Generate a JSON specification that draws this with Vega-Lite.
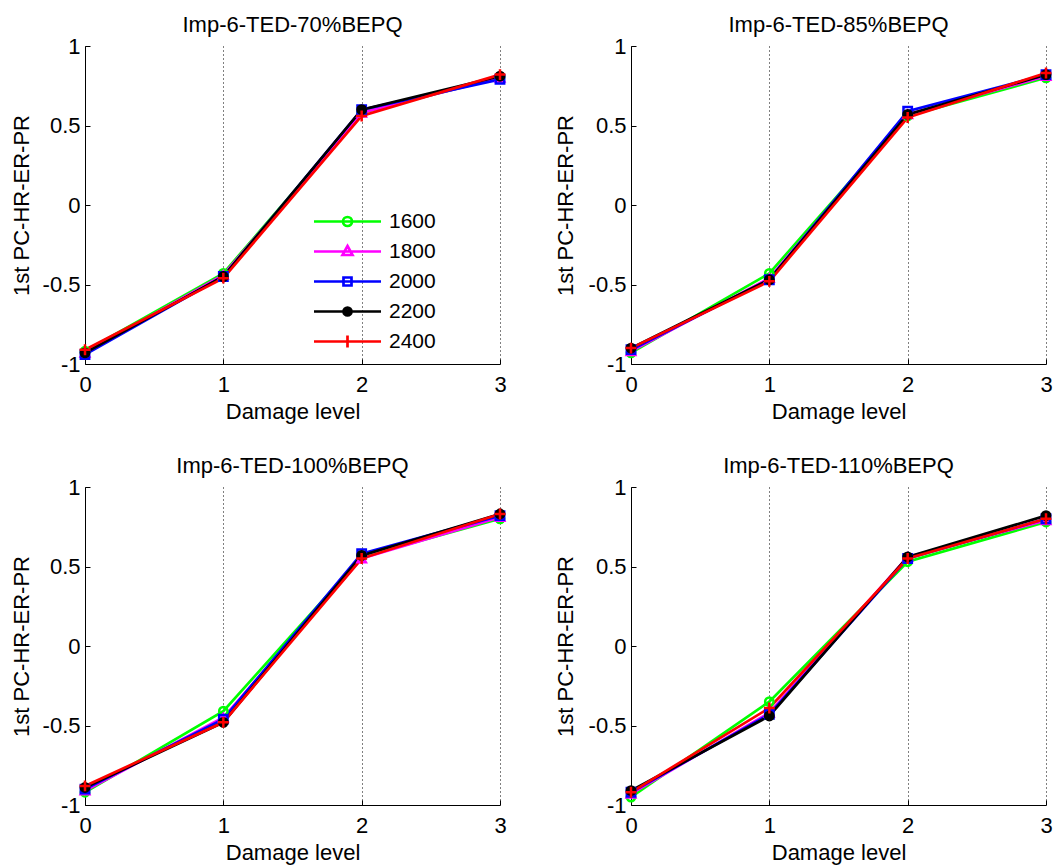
{
  "$schema": "https://vega.github.io/schema/vega-lite/v6.json",
  "padding": {"left": 10, "top": 14, "right": 5, "bottom": 5},
  "background": "white",
  "columns": 2,
  "bounds": "flush",
  "spacing": {"column": 131, "row": 123},
  "config": {
    "font": "Liberation Sans",
    "view": {"stroke": null},
    "title": {"fontSize": 22, "fontWeight": "normal", "color": "#000", "font": "Liberation Sans", "baseline": "alphabetic", "offset": -2},
    "axis": {
      "labelFont": "Liberation Sans", "titleFont": "Liberation Sans",
      "labelFontSize": 22, "titleFontSize": 22, "titleFontWeight": "normal",
      "labelColor": "#000", "titleColor": "#000",
      "domainColor": "#000", "domainWidth": 1, "tickColor": "#000", "tickWidth": 1,
      "tickSize": -5, "labelFlush": false, "labelOverlap": false
    },
    "axisX": {"grid": true, "gridColor": "#000", "gridDash": [1, 3], "gridWidth": 1, "labelPadding": 15, "titleY": 54, "titleBaseline": "alphabetic", "format": "d"},
    "axisY": {"grid": false, "labelPadding": 10, "titleY": 159, "titleBaseline": "middle"}
  },
  "concat": [
    {
      "title": {"text": "Imp-6-TED-70%BEPQ"},
      "width": 415, "height": 318,
      "data": {"values": [
        {"series": "1600", "level": 0, "value": -0.92}, {"series": "1600", "level": 1, "value": -0.43}, {"series": "1600", "level": 2, "value": 0.58}, {"series": "1600", "level": 3, "value": 0.80},
        {"series": "1800", "level": 0, "value": -0.93}, {"series": "1800", "level": 1, "value": -0.44}, {"series": "1800", "level": 2, "value": 0.58}, {"series": "1800", "level": 3, "value": 0.80},
        {"series": "2000", "level": 0, "value": -0.94}, {"series": "2000", "level": 1, "value": -0.45}, {"series": "2000", "level": 2, "value": 0.60}, {"series": "2000", "level": 3, "value": 0.79},
        {"series": "2200", "level": 0, "value": -0.93}, {"series": "2200", "level": 1, "value": -0.45}, {"series": "2200", "level": 2, "value": 0.60}, {"series": "2200", "level": 3, "value": 0.81},
        {"series": "2400", "level": 0, "value": -0.91}, {"series": "2400", "level": 1, "value": -0.46}, {"series": "2400", "level": 2, "value": 0.56}, {"series": "2400", "level": 3, "value": 0.82}
      ]},
      "layer": [
        {"mark": {"type": "line", "strokeWidth": 2.7},
         "encoding": {
           "x": {"field": "level", "type": "quantitative", "scale": {"domain": [0, 3]}, "axis": {"title": "Damage level", "values": [0, 1, 2, 3]}},
           "y": {"field": "value", "type": "quantitative", "scale": {"domain": [-1, 1]}, "axis": {"title": "1st PC-HR-ER-PR", "titleX": -64, "values": [-1, -0.5, 0, 0.5, 1], "labelExpr": "'' + datum.value"}},
           "color": {"field": "series", "type": "nominal", "scale": {"domain": ["1600", "1800", "2000", "2200", "2400"], "range": ["#00ff00", "#ff00ff", "#0000ff", "#000000", "#ff0000"]},
             "legend": {"orient": "none", "legendX": 251, "legendY": 164, "title": null, "symbolType": "stroke", "symbolSize": 400, "symbolStrokeWidth": 2.7, "labelFontSize": 21, "labelColor": "#000", "labelFont": "Liberation Sans", "labelOffset": 30, "rowPadding": 8, "padding": 0,
               "encode": {"symbols": {"update": {
                 "shape": {"signal": "datum.value=='1600'?'M-3.35,0H3.35M0.45,0A0.45,0.45,0,1,1,-0.45,0A0.45,0.45,0,1,1,0.45,0':datum.value=='1800'?'M-3.35,0H3.35M0,-0.55L0.5,0.35L-0.5,0.35Z':datum.value=='2000'?'M-3.35,0H3.35M-0.4,-0.4H0.4V0.4H-0.4Z':datum.value=='2200'?'M-3.35,0H3.35M0.4,0A0.4,0.4,0,1,1,-0.4,0A0.4,0.4,0,1,1,0.4,0':'M-3.35,0H3.35M0,-0.6V0.6'"},
                 "fill": {"signal": "datum.value=='2200'?'#000000':'transparent'"}
               }}}}}
         }},
        {"mark": {"type": "point", "filled": false, "strokeWidth": 2.5, "opacity": 1, "size": 70},
         "encoding": {
           "x": {"field": "level", "type": "quantitative"},
           "y": {"field": "value", "type": "quantitative"},
           "stroke": {"field": "series", "type": "nominal", "scale": {"domain": ["2400", "2200", "2000", "1800", "1600"], "range": ["#ff0000", "#000000", "#0000ff", "#ff00ff", "#00ff00"]}, "legend": null},
           "fill": {"field": "series", "type": "nominal", "scale": {"domain": ["2400", "2200", "2000", "1800", "1600"], "range": ["transparent", "#000000", "transparent", "transparent", "transparent"]}, "legend": null},
           "shape": {"field": "series", "type": "nominal", "scale": {"domain": ["2400", "2200", "2000", "1800", "1600"], "range": ["M-1.3,0H1.3M0,-1.3V1.3", "circle", "square", "triangle-up", "circle"]}, "legend": null}
         }}
      ]
    },
    {
      "title": {"text": "Imp-6-TED-85%BEPQ"},
      "width": 415, "height": 318,
      "data": {"values": [
        {"series": "1600", "level": 0, "value": -0.93}, {"series": "1600", "level": 1, "value": -0.43}, {"series": "1600", "level": 2, "value": 0.56}, {"series": "1600", "level": 3, "value": 0.80},
        {"series": "1800", "level": 0, "value": -0.92}, {"series": "1800", "level": 1, "value": -0.46}, {"series": "1800", "level": 2, "value": 0.57}, {"series": "1800", "level": 3, "value": 0.81},
        {"series": "2000", "level": 0, "value": -0.91}, {"series": "2000", "level": 1, "value": -0.47}, {"series": "2000", "level": 2, "value": 0.59}, {"series": "2000", "level": 3, "value": 0.82},
        {"series": "2200", "level": 0, "value": -0.90}, {"series": "2200", "level": 1, "value": -0.47}, {"series": "2200", "level": 2, "value": 0.57}, {"series": "2200", "level": 3, "value": 0.82},
        {"series": "2400", "level": 0, "value": -0.90}, {"series": "2400", "level": 1, "value": -0.48}, {"series": "2400", "level": 2, "value": 0.55}, {"series": "2400", "level": 3, "value": 0.83}
      ]},
      "layer": [
        {"mark": {"type": "line", "strokeWidth": 2.7},
         "encoding": {
           "x": {"field": "level", "type": "quantitative", "scale": {"domain": [0, 3]}, "axis": {"title": "Damage level", "values": [0, 1, 2, 3]}},
           "y": {"field": "value", "type": "quantitative", "scale": {"domain": [-1, 1]}, "axis": {"title": "1st PC-HR-ER-PR", "titleX": -66, "values": [-1, -0.5, 0, 0.5, 1], "labelExpr": "'' + datum.value"}},
           "color": {"field": "series", "type": "nominal", "scale": {"domain": ["1600", "1800", "2000", "2200", "2400"], "range": ["#00ff00", "#ff00ff", "#0000ff", "#000000", "#ff0000"]}, "legend": null}
         }},
        {"mark": {"type": "point", "filled": false, "strokeWidth": 2.5, "opacity": 1, "size": 70},
         "encoding": {
           "x": {"field": "level", "type": "quantitative"},
           "y": {"field": "value", "type": "quantitative"},
           "stroke": {"field": "series", "type": "nominal", "scale": {"domain": ["2400", "2200", "2000", "1800", "1600"], "range": ["#ff0000", "#000000", "#0000ff", "#ff00ff", "#00ff00"]}, "legend": null},
           "fill": {"field": "series", "type": "nominal", "scale": {"domain": ["2400", "2200", "2000", "1800", "1600"], "range": ["transparent", "#000000", "transparent", "transparent", "transparent"]}, "legend": null},
           "shape": {"field": "series", "type": "nominal", "scale": {"domain": ["2400", "2200", "2000", "1800", "1600"], "range": ["M-1.3,0H1.3M0,-1.3V1.3", "circle", "square", "triangle-up", "circle"]}, "legend": null}
         }}
      ]
    },
    {
      "title": {"text": "Imp-6-TED-100%BEPQ"},
      "width": 415, "height": 318,
      "data": {"values": [
        {"series": "1600", "level": 0, "value": -0.92}, {"series": "1600", "level": 1, "value": -0.41}, {"series": "1600", "level": 2, "value": 0.56}, {"series": "1600", "level": 3, "value": 0.80},
        {"series": "1800", "level": 0, "value": -0.91}, {"series": "1800", "level": 1, "value": -0.45}, {"series": "1800", "level": 2, "value": 0.55}, {"series": "1800", "level": 3, "value": 0.81},
        {"series": "2000", "level": 0, "value": -0.90}, {"series": "2000", "level": 1, "value": -0.46}, {"series": "2000", "level": 2, "value": 0.58}, {"series": "2000", "level": 3, "value": 0.82},
        {"series": "2200", "level": 0, "value": -0.89}, {"series": "2200", "level": 1, "value": -0.48}, {"series": "2200", "level": 2, "value": 0.57}, {"series": "2200", "level": 3, "value": 0.83},
        {"series": "2400", "level": 0, "value": -0.88}, {"series": "2400", "level": 1, "value": -0.48}, {"series": "2400", "level": 2, "value": 0.55}, {"series": "2400", "level": 3, "value": 0.83}
      ]},
      "layer": [
        {"mark": {"type": "line", "strokeWidth": 2.7},
         "encoding": {
           "x": {"field": "level", "type": "quantitative", "scale": {"domain": [0, 3]}, "axis": {"title": "Damage level", "values": [0, 1, 2, 3]}},
           "y": {"field": "value", "type": "quantitative", "scale": {"domain": [-1, 1]}, "axis": {"title": "1st PC-HR-ER-PR", "titleX": -64, "values": [-1, -0.5, 0, 0.5, 1], "labelExpr": "'' + datum.value"}},
           "color": {"field": "series", "type": "nominal", "scale": {"domain": ["1600", "1800", "2000", "2200", "2400"], "range": ["#00ff00", "#ff00ff", "#0000ff", "#000000", "#ff0000"]}, "legend": null}
         }},
        {"mark": {"type": "point", "filled": false, "strokeWidth": 2.5, "opacity": 1, "size": 70},
         "encoding": {
           "x": {"field": "level", "type": "quantitative"},
           "y": {"field": "value", "type": "quantitative"},
           "stroke": {"field": "series", "type": "nominal", "scale": {"domain": ["2400", "2200", "2000", "1800", "1600"], "range": ["#ff0000", "#000000", "#0000ff", "#ff00ff", "#00ff00"]}, "legend": null},
           "fill": {"field": "series", "type": "nominal", "scale": {"domain": ["2400", "2200", "2000", "1800", "1600"], "range": ["transparent", "#000000", "transparent", "transparent", "transparent"]}, "legend": null},
           "shape": {"field": "series", "type": "nominal", "scale": {"domain": ["2400", "2200", "2000", "1800", "1600"], "range": ["M-1.3,0H1.3M0,-1.3V1.3", "circle", "square", "triangle-up", "circle"]}, "legend": null}
         }}
      ]
    },
    {
      "title": {"text": "Imp-6-TED-110%BEPQ"},
      "width": 415, "height": 318,
      "data": {"values": [
        {"series": "1600", "level": 0, "value": -0.95}, {"series": "1600", "level": 1, "value": -0.35}, {"series": "1600", "level": 2, "value": 0.53}, {"series": "1600", "level": 3, "value": 0.78},
        {"series": "1800", "level": 0, "value": -0.93}, {"series": "1800", "level": 1, "value": -0.42}, {"series": "1800", "level": 2, "value": 0.56}, {"series": "1800", "level": 3, "value": 0.79},
        {"series": "2000", "level": 0, "value": -0.92}, {"series": "2000", "level": 1, "value": -0.43}, {"series": "2000", "level": 2, "value": 0.55}, {"series": "2000", "level": 3, "value": 0.80},
        {"series": "2200", "level": 0, "value": -0.91}, {"series": "2200", "level": 1, "value": -0.44}, {"series": "2200", "level": 2, "value": 0.56}, {"series": "2200", "level": 3, "value": 0.82},
        {"series": "2400", "level": 0, "value": -0.92}, {"series": "2400", "level": 1, "value": -0.39}, {"series": "2400", "level": 2, "value": 0.55}, {"series": "2400", "level": 3, "value": 0.80}
      ]},
      "layer": [
        {"mark": {"type": "line", "strokeWidth": 2.7},
         "encoding": {
           "x": {"field": "level", "type": "quantitative", "scale": {"domain": [0, 3]}, "axis": {"title": "Damage level", "values": [0, 1, 2, 3]}},
           "y": {"field": "value", "type": "quantitative", "scale": {"domain": [-1, 1]}, "axis": {"title": "1st PC-HR-ER-PR", "titleX": -66, "values": [-1, -0.5, 0, 0.5, 1], "labelExpr": "'' + datum.value"}},
           "color": {"field": "series", "type": "nominal", "scale": {"domain": ["1600", "1800", "2000", "2200", "2400"], "range": ["#00ff00", "#ff00ff", "#0000ff", "#000000", "#ff0000"]}, "legend": null}
         }},
        {"mark": {"type": "point", "filled": false, "strokeWidth": 2.5, "opacity": 1, "size": 70},
         "encoding": {
           "x": {"field": "level", "type": "quantitative"},
           "y": {"field": "value", "type": "quantitative"},
           "stroke": {"field": "series", "type": "nominal", "scale": {"domain": ["2400", "2200", "2000", "1800", "1600"], "range": ["#ff0000", "#000000", "#0000ff", "#ff00ff", "#00ff00"]}, "legend": null},
           "fill": {"field": "series", "type": "nominal", "scale": {"domain": ["2400", "2200", "2000", "1800", "1600"], "range": ["transparent", "#000000", "transparent", "transparent", "transparent"]}, "legend": null},
           "shape": {"field": "series", "type": "nominal", "scale": {"domain": ["2400", "2200", "2000", "1800", "1600"], "range": ["M-1.3,0H1.3M0,-1.3V1.3", "circle", "square", "triangle-up", "circle"]}, "legend": null}
         }}
      ]
    }
  ]
}
